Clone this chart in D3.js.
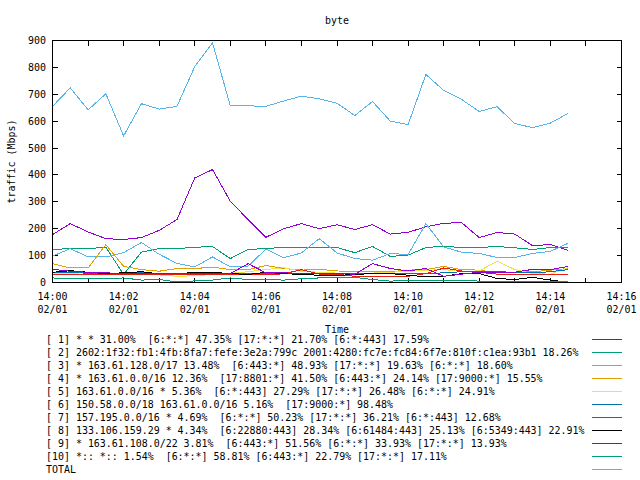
<!DOCTYPE html>
<html>
<head>
<meta charset="utf-8">
<script src="https://cdn.jsdelivr.net/npm/d3@7"></script>
<style>
  html, body { margin: 0; padding: 0; background: #fff; }
  svg text { font-family: "DejaVu Sans Mono", "Liberation Mono", monospace; font-size: 9.95px; fill: #000; }
</style>
</head>
<body>
<svg id="chart" width="640" height="480"></svg>
<script>
const title = "byte";
const yLabel = "traffic (Mbps)";
const xLabel = "Time";
const dateLabel = "02/01";

const times = ["14:00:00","14:00:30","14:01:00","14:01:30","14:02:00","14:02:30","14:03:00","14:03:30",
  "14:04:00","14:04:30","14:05:00","14:05:30","14:06:00","14:06:30","14:07:00","14:07:30","14:08:00",
  "14:08:30","14:09:00","14:09:30","14:10:00","14:10:30","14:11:00","14:11:30","14:12:00","14:12:30",
  "14:13:00","14:13:30","14:14:00","14:14:30"];

const xTickMinutes = ["14:00","14:01","14:02","14:03","14:04","14:05","14:06","14:07","14:08",
  "14:09","14:10","14:11","14:12","14:13","14:14","14:15","14:16"];
const xTickLabels = ["14:00","14:02","14:04","14:06","14:08","14:10","14:12","14:14","14:16"];
const yTicks = [0,100,200,300,400,500,600,700,800,900];

const s1  = [178,219,188,163,160,167,194,234,389,420,302,234,168,200,219,200,215,197,215,180,187,207,220,223,167,186,180,137,141,119];
const s2  = [123,126,126,131,30,113,126,126,131,134,89,123,126,131,131,130,130,111,134,97,102,130,135,130,130,134,129,123,130,130];
const s3  = [98,126,95,95,111,149,105,71,58,95,58,61,124,92,110,163,110,89,83,108,104,219,132,113,108,93,93,108,116,146];
const s4  = [70,54,54,141,60,48,42,52,52,57,48,48,63,52,46,49,43,40,40,40,46,48,60,48,46,36,38,40,46,52];
const s5  = [35,33,30,32,35,33,28,23,25,30,35,40,48,55,42,38,35,33,35,38,42,45,48,42,43,79,48,33,31,55];
const s6  = [38,36,35,33,36,36,34,33,35,36,34,33,35,33,33,33,33,33,33,33,33,33,36,40,42,42,36,36,40,48];
const s7  = [30,30,30,30,31,31,30,30,30,30,30,30,30,32,48,31,31,23,23,23,23,33,54,43,38,31,31,31,31,30];
const s8  = [38,44,38,33,36,40,32,32,38,38,33,30,38,33,30,27,26,30,33,33,27,21,23,33,33,15,11,19,9,1];
const s9  = [49,42,38,36,33,33,34,34,33,34,33,70,36,36,33,33,33,31,70,52,43,52,23,31,38,36,38,49,48,60];
const s10 = [17,14,14,14,17,9,11,2,6,9,17,11,11,9,14,17,19,19,11,5,9,9,6,9,5,5,5,5,2,2];
const total = [655,724,642,702,545,665,645,655,803,891,657,657,655,675,693,683,667,621,673,600,587,774,714,681,636,654,591,576,593,629];

const legendLabels = [
  "[ 1] * * 31.00%  [6:*:*] 47.35% [17:*:*] 21.70% [6:*:443] 17.59%",
  "[ 2] 2602:1f32:fb1:4fb:8fa7:fefe:3e2a:799c 2001:4280:fc7e:fc84:6f7e:810f:c1ea:93b1 18.26%",
  "[ 3] * 163.61.128.0/17 13.48%  [6:443:*] 48.93% [17:*:*] 19.63% [6:*:*] 18.60%",
  "[ 4] * 163.61.0.0/16 12.36%  [17:8801:*] 41.50% [6:443:*] 24.14% [17:9000:*] 15.55%",
  "[ 5] 163.61.0.0/16 * 5.36%  [6:*:443] 27.29% [17:*:*] 26.48% [6:*:*] 24.91%",
  "[ 6] 150.58.0.0/18 163.61.0.0/16 5.16%  [17:9000:*] 98.48%",
  "[ 7] 157.195.0.0/16 * 4.69%  [6:*:*] 50.23% [17:*:*] 36.21% [6:*:443] 12.68%",
  "[ 8] 133.106.159.29 * 4.34%  [6:22880:443] 28.34% [6:61484:443] 25.13% [6:5349:443] 22.91%",
  "[ 9] * 163.61.108.0/22 3.81%  [6:443:*] 51.56% [6:*:*] 33.93% [17:*:*] 13.93%",
  "[10] *:: *:: 1.54%  [6:*:*] 58.81% [6:443:*] 22.79% [17:*:*] 17.11%",
  "TOTAL"
];
const colors = ["#9400d3","#009e73","#56b4e9","#e69f00","#f0e442","#0072b2","#e51e10","#000000","#9400d3","#009e73","#56b4e9"];
const seriesList = [s1,s2,s3,s4,s5,s6,s7,s8,s9,s10,total];

const svg = d3.select("#chart");
const parse = d3.timeParse("%H:%M:%S");
const parseM = d3.timeParse("%H:%M");
const L = 52.5, R = 621.5, T = 40.5, B = 282.5;

const x = d3.scaleTime().domain([parseM(xTickMinutes[0]), parseM(xTickMinutes[xTickMinutes.length-1])]).range([L, R]);
const y = d3.scaleLinear().domain([0, 900]).range([B, T]);

// title
svg.append("text").attr("x", (L+R)/2).attr("y", 24).attr("text-anchor","middle").text(title);

// ticks (mirrored, inward)
const tk = svg.append("g").attr("stroke","#000").attr("stroke-width",1).attr("shape-rendering","crispEdges");
yTicks.forEach(v => {
  const yy = Math.floor(y(v)) + 0.5;
  tk.append("line").attr("x1", L).attr("x2", L+5).attr("y1", yy).attr("y2", yy);
  tk.append("line").attr("x1", R-5).attr("x2", R).attr("y1", yy).attr("y2", yy);
});
xTickMinutes.forEach(m => {
  const xx = Math.floor(x(parseM(m))) + 0.5;
  tk.append("line").attr("x1", xx).attr("x2", xx).attr("y1", B).attr("y2", B-5);
  tk.append("line").attr("x1", xx).attr("x2", xx).attr("y1", T).attr("y2", T+5);
});

// y tick labels
svg.append("g").selectAll("text").data(yTicks).join("text")
  .attr("x", 46).attr("y", d => y(d) + 3.5).attr("text-anchor","end").text(d => d);

// x tick labels
const xl = svg.append("g");
xTickLabels.forEach(m => {
  const xx = x(parseM(m));
  xl.append("text").attr("x", xx).attr("y", 299.5).attr("text-anchor","middle").text(m);
  xl.append("text").attr("x", xx).attr("y", 312.5).attr("text-anchor","middle").text(dateLabel);
});

// axis labels
svg.append("text").attr("x", (L+R)/2).attr("y", 332.5).attr("text-anchor","middle").text(xLabel);
svg.append("text").attr("transform", "translate(15," + ((T+B)/2) + ") rotate(-90)")
  .attr("text-anchor","middle").text(yLabel);

// series
const line = d3.line().x((d,i) => x(parse(times[i]))).y(d => y(d));
const plot = svg.append("g");
seriesList.forEach((s, k) => {
  plot.append("path").datum(s).attr("d", line).attr("fill","none")
    .attr("stroke", colors[k]).attr("stroke-width", 1).attr("shape-rendering","crispEdges");
});

// border
svg.append("rect").attr("x", L).attr("y", T).attr("width", R-L).attr("height", B-T)
  .attr("fill","none").attr("stroke","#000").attr("stroke-width",1).attr("shape-rendering","crispEdges");

// legend
const lg = svg.append("g");
legendLabels.forEach((t, i) => {
  const yy = 339.5 + 13*i;
  lg.append("text").attr("x", 46).attr("y", yy + 3.5).attr("xml:space","preserve").style("white-space","pre").text(t);
  lg.append("line").attr("x1", 592).attr("x2", 622).attr("y1", Math.floor(yy)+0.5).attr("y2", Math.floor(yy)+0.5)
    .attr("stroke", colors[i]).attr("stroke-width",1).attr("shape-rendering","crispEdges");
});
</script>
</body>
</html>
